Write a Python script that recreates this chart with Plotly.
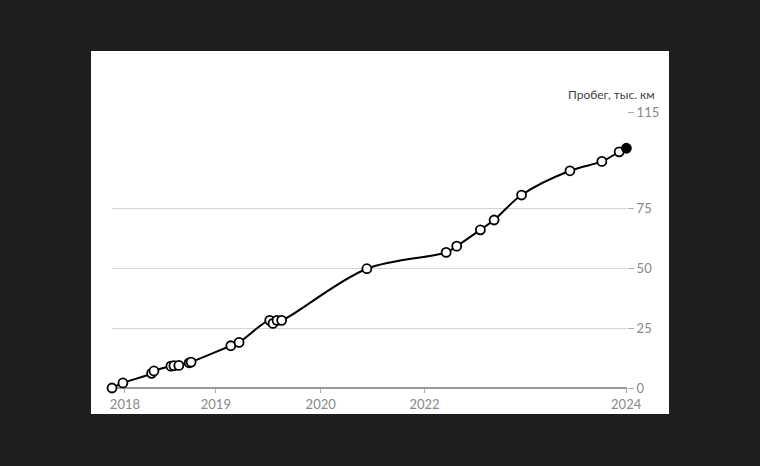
import plotly.graph_objects as go

# Data (decimal-year positions, mileage in thousand km)
dates = [2017.845, 2017.976, 2018.319, 2018.347, 2018.550, 2018.586, 2018.645,
         2018.768, 2018.792, 2019.267, 2019.366, 2019.733, 2019.772, 2019.820,
         2019.876, 2020.896, 2021.845, 2021.972, 2022.255, 2022.419, 2022.748,
         2023.327, 2023.709, 2023.916, 2024.003]
mileage = [0.0, 2.1, 6.1, 7.1, 9.1, 9.3, 9.4, 10.5, 10.8, 17.6, 19.0, 28.2, 26.9,
           28.2, 28.2, 49.7, 56.5, 59.1, 65.9, 70.0, 80.4, 90.5, 94.4, 98.4, 99.9]

x_tick_vals = [2018.0, 2019.088, 2020.343, 2021.586, 2024.0]
x_tick_text = ["2018", "2019", "2020", "2022", "2024"]
y_tick_vals = [0, 25, 50, 75, 115]
y_tick_text = ["0", "25", "50", "75", "115"]
y_title = "Пробег, тыс. км"

fill_colors = ["white"] * (len(mileage) - 1) + ["black"]

fig = go.Figure()
fig.add_trace(go.Scatter(
    x=dates, y=mileage, mode="lines+markers",
    line=dict(color="black", width=2, shape="spline", smoothing=1.0),
    marker=dict(size=9, color=fill_colors, line=dict(color="black", width=1.8)),
    cliponaxis=False, hoverinfo="skip", showlegend=False,
))

W, H = 760, 466
L, R, T, B = 112, 133, 112, 78
pw, ph = W - L - R, H - T - B

def px_to_paper_x(p):
    return (p - L) / pw

def px_to_paper_y(p):
    return (H - B - p) / ph

fig.add_shape(type="rect", xref="paper", yref="paper",
              x0=px_to_paper_x(91), x1=px_to_paper_x(669),
              y0=px_to_paper_y(414), y1=px_to_paper_y(51),
              fillcolor="white", line=dict(width=0), layer="below")

fig.add_annotation(text=y_title, xref="paper", yref="paper",
                   x=px_to_paper_x(657), y=px_to_paper_y(104),
                   xanchor="right", yanchor="bottom", showarrow=False,
                   font=dict(family="Lato", size=12, color="#444"))

fig.update_layout(
    width=W, height=H,
    margin=dict(l=L, r=R, t=T, b=B, pad=0),
    paper_bgcolor="#1e1e1e", plot_bgcolor="rgba(0,0,0,0)",
    font=dict(family="Lato", size=13, color="#888"),
    xaxis=dict(range=[2017.845, 2024.0], tickvals=x_tick_vals, ticktext=x_tick_text,
               showgrid=False, zeroline=False, showline=False,
               ticks="outside", ticklen=4, tickcolor="#aaa", tickwidth=1,
               tickfont=dict(family="Lato", size=13, color="#888")),
    yaxis=dict(range=[0, 115], tickvals=y_tick_vals, ticktext=y_tick_text,
               side="right", showgrid=True, gridcolor="#d4d4d4", gridwidth=1,
               zeroline=True, zerolinecolor="#999", zerolinewidth=2,
               showline=False, ticks="outside", ticklen=6, tickcolor="#aaa",
               tickfont=dict(family="Lato", size=13, color="#888")),
)

# make sure the last (filled) point inside the drawn range
fig.update_xaxes(range=[2017.845, 2024.01])

fig.write_html("out.html")
